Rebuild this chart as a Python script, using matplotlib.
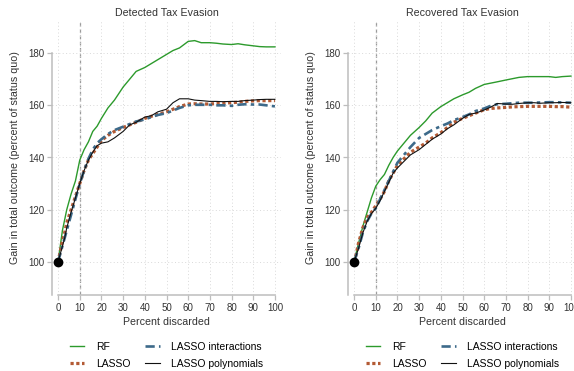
import numpy as np
import matplotlib
matplotlib.use('Agg')
import matplotlib.pyplot as plt

plt.rcParams['font.family'] = ['Liberation Sans', 'DejaVu Sans']

# share of cases discarded (percent)
pct = [0, 1, 2, 3, 4, 6, 8, 10, 12, 14, 16, 18, 20, 23, 26, 30, 33, 36, 40, 43,
       46, 50, 53, 56, 60, 63, 66, 70, 73, 76, 80, 83, 86, 90, 93, 96, 100]

# Detected tax evasion, gain in total outcome (percent of status quo)
det_rf = [100, 106, 112, 116, 120, 126, 131, 139, 143, 146, 150, 152, 155, 159, 162, 167, 170, 173, 174.5, 176,
          177.5, 179.5, 181, 182, 184.5, 184.8, 184, 184, 183.8, 183.5, 183.3, 183.6, 183.2, 182.8, 182.5, 182.4, 182.4]
det_lasso = [100, 104, 108, 111, 115, 120, 125, 130, 135, 139, 141.5, 144, 146.5, 148.5, 150, 151.5, 152.5, 153.5, 155, 155.8,
             156.5, 157.5, 158.5, 159.5, 160.5, 160.6, 160.5, 160.5, 160.7, 160.8, 161, 161.2, 161.5, 161.7, 161.8, 161.8, 161.8]
det_inter = [100, 103, 106, 109, 112, 118, 124, 130, 135, 139.5, 143, 145.5, 147, 149, 150.5, 151.8, 152.8, 153.8, 154.6, 155.5,
             156.3, 157, 158, 159, 160, 160.2, 160.2, 160.2, 160, 160, 159.8, 160.2, 160.4, 160.3, 160.3, 160, 159.6]
det_poly = [100, 103, 106, 109, 113, 119, 124.5, 130, 135, 139, 142, 144.5, 145.5, 146, 147.5, 150, 152.5, 153.5, 155.5, 156,
            157.5, 158.5, 161, 162.5, 162.5, 162, 161.8, 161.5, 161.5, 161.4, 161.5, 161.5, 161.8, 162, 162.2, 162.3, 162.3]

# Recovered tax evasion
rec_rf = [100, 103.5, 107, 110, 113.5, 119, 124.5, 129, 131.5, 133.5, 137, 140, 142.5, 145.5, 148.5, 151.5, 154, 157, 159.5, 161,
          162.5, 164, 165, 166.5, 168, 168.5, 169, 169.7, 170.2, 170.7, 171, 171, 171, 171, 170.7, 171, 171.2]
rec_lasso = [100, 103, 107, 110, 113, 117, 119, 121.5, 124, 127, 131, 134, 137, 139.5, 142, 144, 145.5, 147.5, 149.5, 151.5,
             153.5, 155, 156, 157, 158.3, 158.8, 159, 159.2, 159.4, 159.5, 159.6, 159.6, 159.6, 159.6, 159.5, 159.5, 159.3]
rec_inter = [100, 102.5, 105, 108, 111, 115.5, 118.5, 120.5, 124, 127.5, 131, 134.5, 138, 141, 144, 147.5, 149, 150.5, 152, 153,
             154.3, 155.5, 156.5, 157.8, 158.8, 159.8, 160.4, 160.6, 160.8, 161, 161, 161, 161.1, 161.2, 161.2, 161.1, 161]
rec_poly = [100, 102.5, 105, 108, 111, 115.5, 118.5, 120.5, 123.5, 127, 130.5, 134, 136, 138.5, 141, 143, 145, 147, 149, 151,
            152.5, 155, 156.5, 157, 158.2, 159.3, 160.7, 160.5, 160.4, 160.7, 161, 161, 160.8, 161, 161, 161.1, 161]

titles = ['Detected Tax Evasion', 'Recovered Tax Evasion']
series = [[det_rf, det_lasso, det_inter, det_poly],
          [rec_rf, rec_lasso, rec_inter, rec_poly]]
names = ['RF', 'LASSO', 'LASSO interactions', 'LASSO polynomials']
yticks = [100, 120, 140, 160, 180]
xticks = list(range(0, 101, 10))

styles = [
    dict(color='#2c9a2c', lw=1.0, ls='-'),
    dict(color='#b35a34', lw=2.3, ls=(0, (1, 0.8))),
    dict(color='#3d6a8a', lw=1.9, ls=(0, (3.5, 1.6, 1.3, 1.6))),
    dict(color='#111111', lw=0.8, ls='-'),
]

W, H = 574, 371
fig = plt.figure(figsize=(W / 100, H / 100), dpi=100)
axes = [fig.add_axes([52 / W, 76 / H, 229 / W, 275 / H]),
        fig.add_axes([348 / W, 76 / H, 229 / W, 275 / H])]

spine_col = '#bdbdbd'
for ax, title, data in zip(axes, titles, series):
    for vals, st, nm in zip(data, styles, names):
        ax.plot(pct, vals, label=nm, **st)
    ax.plot([pct[0]], [data[0][0]], 'o', color='black', ms=6, zorder=5)

    ax.axvline(10, color='#9a9a9a', lw=0.9, ls=(0, (3, 2)), zorder=0)
    ax.set_xlim(-2.8, 102.8)
    ax.set_ylim(87.3, 192.7)
    ax.set_xticks(xticks)
    ax.set_yticks(yticks)
    ax.grid(True, color='#d9d9d9', lw=0.7, ls=(0, (1, 2.5)), zorder=0)

    for s in ['top', 'right']:
        ax.spines[s].set_visible(False)
    ax.spines['left'].set_bounds(87.3, 180)
    ax.spines['bottom'].set_bounds(0, 100)
    for s in ['left', 'bottom']:
        ax.spines[s].set_color(spine_col)
        ax.spines[s].set_linewidth(1.1)
    ax.tick_params(colors=spine_col, labelcolor='#333333', labelsize=7,
                   length=3.5, width=0.9, pad=2)

    ax.set_title(title, fontsize=7.7, color='#333333', pad=3)
    ax.set_xlabel('Percent discarded', fontsize=7.7, color='#333333', labelpad=3)
    ax.set_ylabel('Gain in total outcome (percent of status quo)', fontsize=7.7, color='#333333')
    ax.yaxis.set_label_coords(-0.14, 0.5)

    ax.legend(loc='upper center', bbox_to_anchor=(0.5, -0.17), ncol=2, frameon=False,
              fontsize=7.5, handlelength=1.4, handletextpad=1.1, columnspacing=1.4,
              labelspacing=0.65, borderpad=0, borderaxespad=0)

fig.savefig('out.png', dpi=100)
